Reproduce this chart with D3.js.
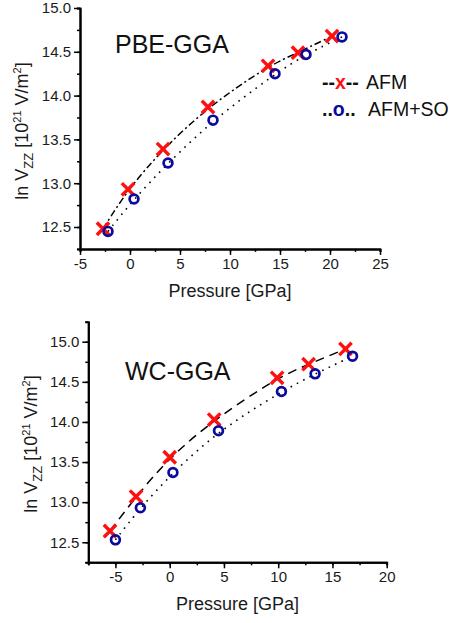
<!DOCTYPE html>
<html>
<head>
<meta charset="utf-8">
<script src="https://cdn.jsdelivr.net/npm/d3@7"></script>
<style>
  body { margin: 0; background: #fff; }
  svg text { font-family: "Liberation Sans", Arial, sans-serif; }
</style>
</head>
<body>
<div id="chart"></div>
<script>
// PBE-GGA panel
const pbePressureAFM = [-2.7, -0.2, 3.3, 7.8, 13.8, 16.8, 20.2];
const pbeVzzAFM      = [12.48, 12.93, 13.39, 13.87, 14.34, 14.49, 14.68];
const pbePressureSO  = [-2.2, 0.4, 3.8, 8.3, 14.5, 17.6, 21.2];
const pbeVzzSO       = [12.45, 12.82, 13.23, 13.72, 14.25, 14.47, 14.67];

// WC-GGA panel
const wcPressureAFM = [-5.5, -3.1, 0.0, 4.1, 9.9, 12.8, 16.2];
const wcVzzAFM      = [12.64, 13.07, 13.56, 14.03, 14.55, 14.72, 14.91];
const wcPressureSO  = [-5.0, -2.7, 0.3, 4.5, 10.3, 13.4, 16.85];
const wcVzzSO       = [12.53, 12.93, 13.37, 13.89, 14.38, 14.60, 14.82];

const yTicks = [12.5, 13.0, 13.5, 14.0, 14.5, 15.0];
const pbeXTicks = [-5, 0, 5, 10, 15, 20, 25];
const wcXTicks = [-5, 0, 5, 10, 15, 20];

const red = "#ff1010";
const navy = "#0a0a9e";

const svg = d3.select("#chart").append("svg")
    .attr("width", 453)
    .attr("height", 623);

function drawPanel(cfg) {
    const x = d3.scaleLinear().domain(cfg.xDomain).range(cfg.xRange);
    const y = d3.scaleLinear().domain(cfg.yDomain).range(cfg.yRange);
    const g = svg.append("g");

    // minor ticks
    const xMinor = d3.range(cfg.xDomain[0], cfg.xDomain[1] + 0.01, 2.5);
    const yMinor = d3.range(cfg.yDomain[0], cfg.yDomain[1] + 0.01, 0.25);

    g.append("g").attr("transform", `translate(0,${cfg.yRange[0]})`)
        .call(d3.axisBottom(x).tickValues(xMinor).tickSize(3).tickFormat(""));
    g.append("g").attr("transform", `translate(${cfg.xRange[0]},0)`)
        .call(d3.axisLeft(y).tickValues(yMinor).tickSize(3).tickFormat(""));

    const xAxis = d3.axisBottom(x).tickValues(cfg.xTicks).tickSize(6).tickSizeOuter(0).tickPadding(3)
        .tickFormat(d => String(d));
    const yAxis = d3.axisLeft(y).tickValues(yTicks).tickSize(6).tickSizeOuter(0).tickPadding(3)
        .tickFormat(d3.format(".1f"));
    g.append("g").attr("transform", `translate(0,${cfg.yRange[0]})`).call(xAxis);
    g.append("g").attr("transform", `translate(${cfg.xRange[0]},0)`).call(yAxis);

    g.selectAll(".domain").attr("stroke", "#000").attr("stroke-width", 2);
    g.selectAll(".tick line").attr("stroke", "#000").attr("stroke-width", 1.5);
    g.selectAll(".tick text").attr("font-size", 15).attr("fill", "#1a1a1a")
        .attr("font-family", "Liberation Sans, Arial, sans-serif");

    // axis titles
    g.append("text")
        .attr("x", (cfg.xRange[0] + cfg.xRange[1]) / 2)
        .attr("y", cfg.xLabelY)
        .attr("text-anchor", "middle")
        .attr("font-size", 18)
        .attr("fill", "#1a1a1a")
        .text("Pressure [GPa]");

    const yl = g.append("text")
        .attr("transform", `translate(${cfg.yLabelX},${cfg.yLabelY}) rotate(-90)`)
        .attr("text-anchor", "middle")
        .attr("font-size", 18)
        .attr("fill", "#1a1a1a");
    yl.append("tspan").text("ln V");
    yl.append("tspan").attr("font-size", 13).attr("dy", 5).text("ZZ");
    yl.append("tspan").attr("dy", -5).text(" [10");
    yl.append("tspan").attr("font-size", 11).attr("dy", -7).text("21");
    yl.append("tspan").attr("dy", 7).text(" V/m");
    yl.append("tspan").attr("font-size", 11).attr("dy", -7).text("2");
    yl.append("tspan").attr("dy", 7).text("]");

    // panel title
    g.append("text")
        .attr("x", cfg.titleX)
        .attr("y", cfg.titleY)
        .attr("font-size", 25)
        .attr("fill", "#111")
        .text(cfg.title);

    const afm = cfg.pAFM.map((p, i) => [p, cfg.vAFM[i]]);
    const so = cfg.pSO.map((p, i) => [p, cfg.vSO[i]]);
    const line = d3.line().x(d => x(d[0])).y(d => y(d[1])).curve(d3.curveBasis);

    g.append("path").datum(afm)
        .attr("d", line)
        .attr("fill", "none")
        .attr("stroke", "#000")
        .attr("stroke-width", 1.5)
        .attr("stroke-dasharray", cfg.afmDash);
    g.append("path").datum(so)
        .attr("d", line)
        .attr("fill", "none")
        .attr("stroke", "#000")
        .attr("stroke-width", 1.6)
        .attr("stroke-dasharray", "1.6,5.5");

    // markers
    const s = 6.2;
    g.selectAll(".xm").data(afm).join("path")
        .attr("class", "xm")
        .attr("d", d => {
            const cx = x(d[0]), cy = y(d[1]);
            return `M${cx - s},${cy - s}L${cx + s},${cy + s}M${cx - s},${cy + s}L${cx + s},${cy - s}`;
        })
        .attr("stroke", red)
        .attr("stroke-width", 3.4)
        .attr("fill", "none");
    g.selectAll(".om").data(so).join("circle")
        .attr("class", "om")
        .attr("cx", d => x(d[0]))
        .attr("cy", d => y(d[1]))
        .attr("r", 4.4)
        .attr("fill", "none")
        .attr("stroke", navy)
        .attr("stroke-width", 2.7);
}

drawPanel({
    xDomain: [-5, 25], xRange: [80, 380],
    yDomain: [12.25, 15.0], yRange: [248.9, 8],
    xTicks: pbeXTicks,
    pAFM: pbePressureAFM, vAFM: pbeVzzAFM, pSO: pbePressureSO, vSO: pbeVzzSO,
    title: "PBE-GGA", titleX: 115, titleY: 53,
    xLabelY: 297, yLabelX: 28, yLabelY: 131,
    afmDash: "7,3,2,3"
});

drawPanel({
    xDomain: [-7.5, 20], xRange: [88.3, 386.7],
    yDomain: [12.25, 15.25], yRange: [562.3, 321.7],
    xTicks: wcXTicks,
    pAFM: wcPressureAFM, vAFM: wcVzzAFM, pSO: wcPressureSO, vSO: wcVzzSO,
    title: "WC-GGA", titleX: 125, titleY: 380,
    xLabelY: 610, yLabelX: 37, yLabelY: 444,
    afmDash: "9,6"
});

// legend
const leg = svg.append("g").attr("font-size", 19.5).attr("fill", "#111");
const l1 = leg.append("text").attr("x", 322).attr("y", 89);
l1.append("tspan").attr("font-weight", "bold").text("--");
l1.append("tspan").attr("fill", red).attr("font-weight", "bold").text("x");
l1.append("tspan").attr("font-weight", "bold").text("--");
leg.append("text").attr("x", 366).attr("y", 89).text("AFM");
const l2 = leg.append("text").attr("x", 322).attr("y", 116);
l2.append("tspan").attr("font-weight", "bold").text("..");
l2.append("tspan").attr("fill", navy).attr("font-weight", "bold").text("o");
l2.append("tspan").attr("font-weight", "bold").text("..");
leg.append("text").attr("x", 368).attr("y", 116).text("AFM+SO");
</script>
</body>
</html>
